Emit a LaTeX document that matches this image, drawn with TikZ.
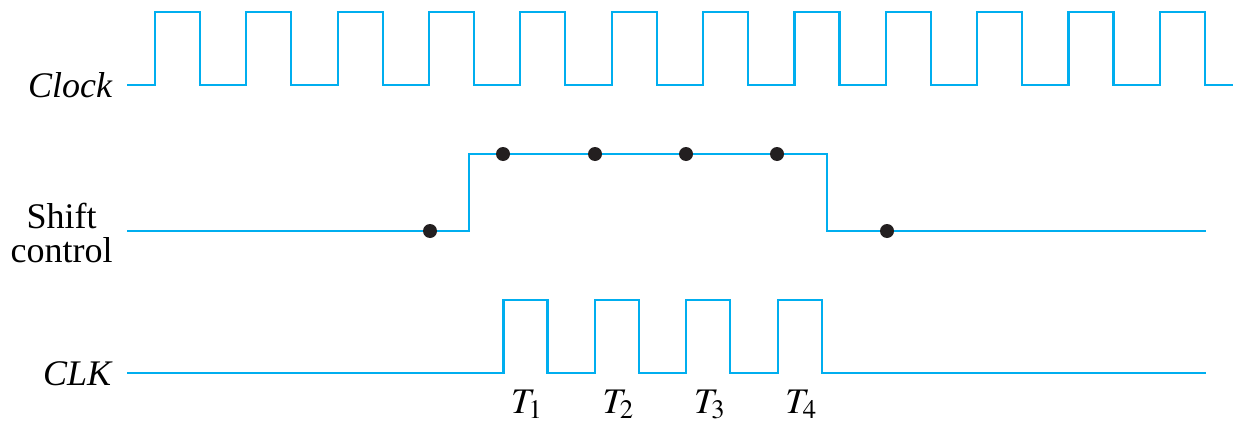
\documentclass[tikz,border=0pt]{standalone}
\usepackage{mathptmx}
\usepackage{fontspec}
\setmainfont{Liberation Serif}
\definecolor{wavecol}{RGB}{0,174,239}
\definecolor{dotcol}{RGB}{35,31,32}

\begin{document}
\begin{tikzpicture}
  [x=0.02cm, y=-0.02cm,
   every node/.style={font=\fontsize{20.5}{19.4}\selectfont, inner sep=0pt},
   signal/.style={draw=wavecol, line width=1.2pt},
   dot/.style={circle, fill=dotcol, minimum size=0.28cm}]
  \useasboundingbox (0,0) rectangle (1238,423);
  \node[anchor=base east] (clock) at (113,97) {\textit{Clock}};
  \node[anchor=east, align=center] (shift) at (113,233) {Shift\\control};
  \node[anchor=base east] (clk) at (113,385) {\textit{CLK}};
  % clock
  \draw[signal] (127,85) \foreach \k in {0,...,11} {
      -- ({155+91.35*\k},85) -- ++(0,-73) -- ++(45,0) -- ++(0,73)} -- (1233,85);
  % shift control
  \draw[signal] (127,231) -- (469,231) -- (469,154) -- (827,154) -- (827,231) -- (1206,231);
  \node[dot] (s0) at (430,231) {};
  \node[dot] (s1) at (503,154) {};
  \node[dot] (s2) at (595,154) {};
  \node[dot] (s3) at (686,154) {};
  \node[dot] (s4) at (777,154) {};
  \node[dot] (s5) at (887,231) {};
  % CLK
  \draw[signal] (127,373) \foreach \k in {0,...,3} {
      -- ({503.5+91.4*\k},373) -- ++(0,-73) -- ++(44,0) -- ++(0,73)} -- (1206,373);
  \foreach \k [count=\n] in {0,...,3}
    \node[anchor=base] (t\n) at ({527+91.4*\k},413) {$T_\n$};
\end{tikzpicture}
\end{document}
